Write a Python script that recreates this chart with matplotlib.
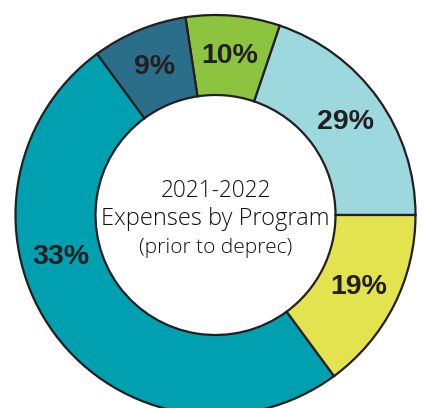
import matplotlib
matplotlib.use("Agg")
import numpy as np
import matplotlib.pyplot as plt

# wedge shares as drawn in the picture (counterclockwise from 3 o'clock)
programs = ["A", "B", "C", "D", "E"]
wedge_share = [19.8, 7.6, 7.7, 50.0, 14.9]
pct_labels = ["29%", "10%", "9%", "33%", "19%"]
colors = ["#9dd8df", "#8dc43f", "#2b6e8a", "#00a0b1", "#e3e24f"]
# label angle offset (deg) from wedge middle; the big wedge label sits higher
label_shift = [0, 0, 0, -21, 0]

center_lines = ["2021-2022", "Expenses by Program", "(prior to deprec)"]

fig = plt.figure(figsize=(4.26, 4.08), dpi=100)
ax = fig.add_axes([0, 0, 1, 1])

cx, cy = 215.5, 408 - 215
r_out, ring = 200, 80

wedges, _ = ax.pie(wedge_share, colors=colors, startangle=0, counterclock=True,
                   radius=r_out, center=(cx, cy),
                   wedgeprops=dict(width=ring, edgecolor="#231f20", linewidth=1.6))

r_lab = r_out - ring / 2
for w, lab, shift in zip(wedges, pct_labels, label_shift):
    ang = np.deg2rad((w.theta1 + w.theta2) / 2 + shift)
    ax.text(cx + r_lab * np.cos(ang), cy + r_lab * np.sin(ang), lab,
            ha="center", va="center", fontsize=20.5, fontweight="bold",
            family=["Liberation Sans Narrow", "Liberation Sans"], color="#231f20")

ax.text(cx, 408 - 191, center_lines[0], ha="center", va="center",
        fontsize=16.3, family="Open Sans", fontweight="light", color="#111111")
ax.text(cx, 408 - 219, center_lines[1], ha="center", va="center",
        fontsize=17, family="Open Sans", fontweight="light", color="#111111")
ax.text(cx, 408 - 248, center_lines[2], ha="center", va="center",
        fontsize=15, family="Open Sans", fontweight="light", color="#111111")

ax.set_xlim(0, 426)
ax.set_ylim(0, 408)
ax.set_aspect("equal")
ax.axis("off")

fig.savefig("out.png", dpi=100, facecolor="white")
